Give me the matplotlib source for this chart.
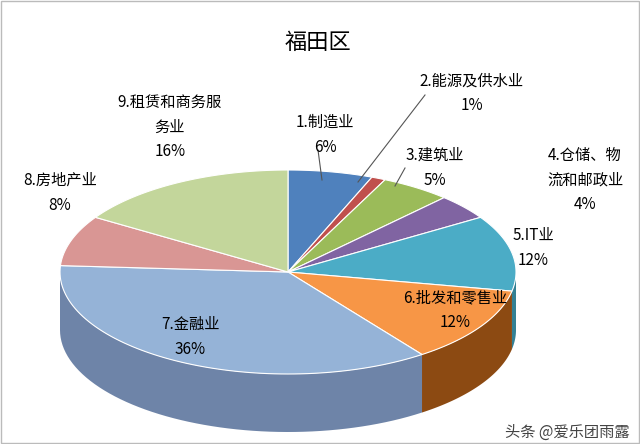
import numpy as np
import matplotlib.pyplot as plt
from matplotlib.patches import Polygon, Rectangle

plt.rcParams['font.family'] = ['Noto Sans CJK SC', 'DejaVu Sans']

labels = ['1.制造业\n6%', '2.能源及供水业\n1%', '3.建筑业\n5%', '4.仓储、物\n流和邮政业\n4%',
          '5.IT业\n12%', '6.批发和零售业\n12%', '7.金融业\n36%', '8.房地产业\n8%',
          '9.租赁和商务服\n务业\n16%']
values = [6, 1, 5, 4, 12, 12, 36, 8, 16]
colors = ['#4F81BD', '#C0504D', '#9BBB59', '#8064A2', '#4BACC6', '#F79646',
          '#95B3D7', '#D99694', '#C3D69B']
side_colors = ['#3A6090', '#903B39', '#728C40', '#5E4A79', '#338094', '#8C4A12',
               '#6E84A8', '#A26E6C', '#91A073']
label_pos = [(325, 135), (472, 93), (435, 168), (585, 180), (533, 248), (455, 310),
             (190, 337), (60, 193), (170, 127)]

cx, cy, rx, ry, depth = 288, 272, 228, 102, 58

fig = plt.figure(figsize=(6.4, 4.44), dpi=100)
ax = fig.add_axes([0, 0, 1, 1])
ax.set_xlim(0, 640)
ax.set_ylim(444, 0)
ax.axis('off')

def pt(t, dy=0):
    r = np.radians(t)
    return cx + rx * np.sin(r), cy - ry * np.cos(r) + dy

bounds = np.concatenate([[0], np.cumsum(values)]) * 3.6

# side walls
for i in range(len(values)):
    a, b = max(bounds[i], 90), min(bounds[i + 1], 270)
    if a >= b:
        continue
    ts = np.linspace(a, b, 60)
    top = [pt(t) for t in ts]
    bot = [pt(t, depth) for t in ts[::-1]]
    ax.add_patch(Polygon(top + bot, closed=True, fc=side_colors[i], ec='none'))

# top faces
for i in range(len(values)):
    ts = np.linspace(bounds[i], bounds[i + 1], 80)
    poly = [(cx, cy)] + [pt(t) for t in ts]
    ax.add_patch(Polygon(poly, closed=True, fc=colors[i], ec='white', lw=0.8))

for i, (x, y) in enumerate(label_pos):
    ax.text(x, y, labels[i], ha='center', va='center', fontsize=11, linespacing=1.6)

# leader lines
ax.plot([318, 322], [150, 180], color='#555555', lw=0.8)
ax.plot([425, 358], [95, 182], color='#555555', lw=0.8)
ax.plot([405, 395], [168, 186], color='#555555', lw=0.8)

ax.text(318, 42, '福田区', ha='center', va='center', fontsize=16)
ax.text(630, 432, '头条 @爱乐团雨露', ha='right', va='center', fontsize=11, color='#444444')
ax.add_patch(Rectangle((1, 1), 638, 442, fill=False, ec='#BBBBBB', lw=1))

fig.savefig('out.png', dpi=100)
